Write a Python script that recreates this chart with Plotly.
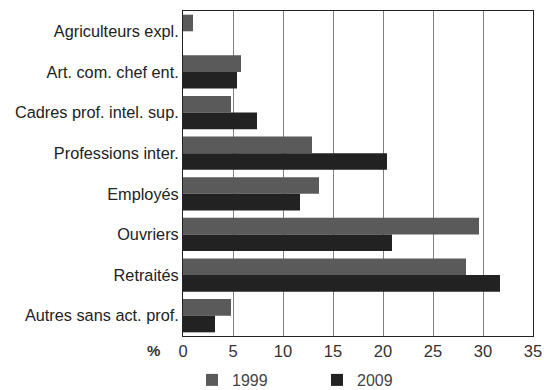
import plotly.graph_objects as go

categories = ["Agriculteurs expl.", "Art. com. chef ent.", "Cadres prof. intel. sup.",
              "Professions inter.", "Employés", "Ouvriers", "Retraités",
              "Autres sans act. prof."]
values_1999 = [1.0, 5.8, 4.8, 12.9, 13.6, 29.6, 28.3, 4.8]
values_2009 = [0.0, 5.4, 7.4, 20.4, 11.7, 20.9, 31.7, 3.2]
x_ticks = [0, 5, 10, 15, 20, 25, 30, 35]

fig = go.Figure()
fig.add_trace(go.Bar(y=categories, x=values_1999, orientation="h", name="1999",
                     marker=dict(color="#5a5a5a", line=dict(width=0))))
fig.add_trace(go.Bar(y=categories, x=values_2009, orientation="h", name="2009",
                     marker=dict(color="#222222", line=dict(width=0))))

font = "Liberation Sans, Arial, sans-serif"
L, T, W, H = 183, 11, 350, 325
fig.update_layout(
    width=544, height=390,
    margin=dict(l=L, r=544 - L - W, t=T, b=390 - T - H, autoexpand=False),
    paper_bgcolor="white", plot_bgcolor="white",
    barmode="group", bargap=0.18, bargroupgap=0,
    font=dict(family=font, size=16, color="#222"),
    showlegend=True,
    legend=dict(orientation="h", x=(192 - L) / W, xanchor="left",
                y=-(380 - (T + H)) / H, yanchor="middle",
                font=dict(size=16, color="#444"), entrywidth=80,
                entrywidthmode="pixels", traceorder="normal"),
    xaxis=dict(range=[0, 35], tickvals=x_ticks, showgrid=True, gridcolor="#808080",
               gridwidth=1, showline=True, linecolor="#222", linewidth=1, mirror=True,
               zeroline=False, ticks="", tickfont=dict(size=16.5, color="#333")),
    yaxis=dict(autorange="reversed", showline=True, linecolor="#222", linewidth=1,
               mirror=True, ticks="", showgrid=False,
               tickfont=dict(size=16.3, color="#222")),
    annotations=[dict(text="<b>%</b>", x=(153 - L) / W, y=-(350 - (T + H)) / H,
                      xref="paper", yref="paper", xanchor="center", yanchor="middle",
                      showarrow=False, font=dict(size=15, color="#333"))],
)

fig.write_html("out.html", config={"displayModeBar": False},
               post_script="document.body.style.margin='0';")
